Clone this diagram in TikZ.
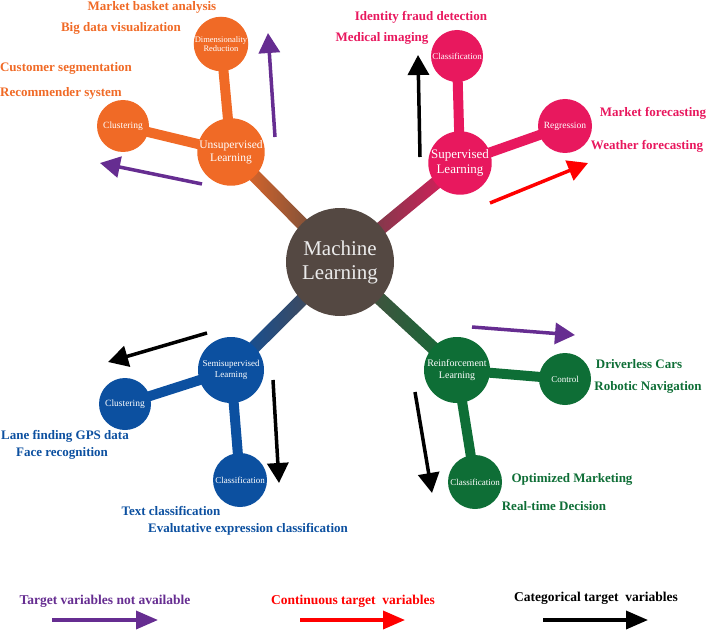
\documentclass[tikz,border=0pt]{standalone}
\usepackage{fontspec}
\setmainfont{Liberation Serif}
\usetikzlibrary{arrows.meta,calc,backgrounds}
\definecolor{mlgray}{RGB}{84,72,66}
\definecolor{uorange}{RGB}{240,106,38}
\definecolor{spink}{RGB}{232,24,94}
\definecolor{sblue}{RGB}{12,80,160}
\definecolor{rgreen}{RGB}{14,110,54}
\definecolor{tpurple}{RGB}{102,45,145}
\tikzset{arr/.style={line width=3.5pt, -{Triangle[length=20pt, width=21pt]}},
  key/.style={line width=3.5pt, -{Triangle[length=22pt, width=18pt]}},
  ball/.style={circle, inner sep=0pt, text=white, align=center, font=\fontsize{9.5}{10.5}\selectfont},
  twig/.style={line width=10pt},
  app/.style={font=\bfseries\fontsize{13}{15}\selectfont}}
\newcommand{\limb}[4]{\shade[left color=#3, right color=#4]
  ($(#1)!6.5pt!90:(#2)$) -- ($(#2)!6.5pt!-90:(#1)$) -- ($(#2)!6.5pt!90:(#1)$) -- ($(#1)!6.5pt!-90:(#2)$) -- cycle;}

\begin{document}
\begin{tikzpicture}[x=1pt, y=-1pt]
  \useasboundingbox (0,0) rectangle (709,631);
  \node[ball, fill=mlgray, minimum size=108pt, text=white!92!black, font=\fontsize{21}{24}\selectfont] (ml) at (340,262) {Machine\\Learning};

  \node[ball, fill=uorange, minimum size=66pt, font=\fontsize{11.5}{13}\selectfont] (unsup) at (231,152) {Unsupervised\\Learning};
  \node[ball, fill=uorange, minimum size=52pt, font=\fontsize{8.5}{9.5}\selectfont] (dimred) at (221,44) {Dimensionality\\Reduction};
  \node[ball, fill=uorange, minimum size=52pt] (uclust) at (123,126) {Clustering};

  \node[ball, fill=spink, minimum size=62pt, font=\fontsize{13}{14.5}\selectfont] (sup) at (460,163) {Supervised\\Learning};
  \node[ball, fill=spink, minimum size=52pt, font=\fontsize{9}{10}\selectfont] (sclass) at (457,56) {Classification};
  \node[ball, fill=spink, minimum size=54pt] (regr) at (565,126) {Regression};

  \node[ball, fill=sblue, minimum size=66pt, font=\fontsize{9}{10.5}\selectfont] (semi) at (231,370) {Semisupervised\\Learning};
  \node[ball, fill=sblue, minimum size=52pt] (mclust) at (125,404) {Clustering};
  \node[ball, fill=sblue, minimum size=54pt, font=\fontsize{9}{10}\selectfont] (mclass) at (240,480) {Classification};

  \node[ball, fill=rgreen, minimum size=66pt, font=\fontsize{10}{11.5}\selectfont] (reinf) at (457,370) {Reinforcement\\Learning};
  \node[ball, fill=rgreen, minimum size=52pt, font=\fontsize{9}{10}\selectfont] (ctrl) at (565,379) {Control};
  \node[ball, fill=rgreen, minimum size=54pt, font=\fontsize{9}{10}\selectfont] (rclass) at (475,482) {Classification};

  \begin{scope}[on background layer]
    \limb{unsup}{ml}{uorange}{mlgray}
    \limb{ml}{sup}{mlgray}{spink}
    \limb{semi}{ml}{sblue}{mlgray}
    \limb{ml}{reinf}{mlgray}{rgreen}
    \draw[twig, uorange] (dimred.center) -- (unsup.center);
    \draw[twig, uorange] (uclust.center) -- (unsup.center);
    \draw[twig, spink] (sclass.center) -- (sup.center);
    \draw[twig, spink] (regr.center) -- (sup.center);
    \draw[twig, sblue] (mclust.center) -- (semi.center);
    \draw[twig, sblue] (mclass.center) -- (semi.center);
    \draw[twig, rgreen] (ctrl.center) -- (reinf.center);
    \draw[twig, rgreen] (rclass.center) -- (reinf.center);
  \end{scope}

  \draw[arr, tpurple] (275,137) -- (268,33);
  \draw[arr, tpurple] (202,184) -- (100,163);
  \draw[arr, black] (420,157) -- (418,55);
  \draw[arr, red] (490,203) -- (588,163);
  \draw[arr, black] (207,333) -- (108,362);
  \draw[arr, black] (273,380) -- (279,483);
  \draw[arr, tpurple] (472,327) -- (575,335);
  \draw[arr, black] (415,392) -- (432,493);

  \node[app, uorange] (mba) at (152,7) {Market basket analysis};
  \node[app, uorange] (bdv) at (121,28) {Big data visualization};
  \node[app, uorange] (cseg) at (66,68) {Customer segmentation};
  \node[app, uorange] (rsys) at (61,93) {Recommender system};

  \node[app, spink] (ifd) at (421,17) {Identity fraud detection};
  \node[app, spink] (mimg) at (382,38) {Medical imaging};
  \node[app, spink] (mfc) at (653,113) {Market forecasting};
  \node[app, spink] (wfc) at (647,146) {Weather forecasting};

  \node[app, sblue] (lane) at (65,436) {Lane finding GPS data};
  \node[app, sblue] (face) at (62,453) {Face recognition};
  \node[app, sblue] (txt) at (171,511) {Text classification};
  \node[app, sblue] (evx) at (248,529) {Evalutative expression classification};

  \node[app, rgreen] (drv) at (639,364) {Driverless Cars};
  \node[app, rgreen] (rnav) at (648,387) {Robotic Navigation};
  \node[app, rgreen] (omk) at (572,479) {Optimized Marketing};
  \node[app, rgreen] (rtd) at (554,506) {Real-time Decision};

  \node[app, tpurple, font=\bfseries\fontsize{13.5}{15}\selectfont] (kna) at (105,601) {Target variables not available};
  \node[app, red, font=\bfseries\fontsize{13.5}{15}\selectfont] (kct) at (353,601) {Continuous target\ \ variables};
  \node[app, black, font=\bfseries\fontsize{13.5}{15}\selectfont] (kcat) at (596,598) {Categorical target\ \ variables};
  \draw[key, tpurple] (52,620) -- (158,620);
  \draw[key, red] (300,620) -- (405,620);
  \draw[key, black] (543,620) -- (648,620);
\end{tikzpicture}
\end{document}
